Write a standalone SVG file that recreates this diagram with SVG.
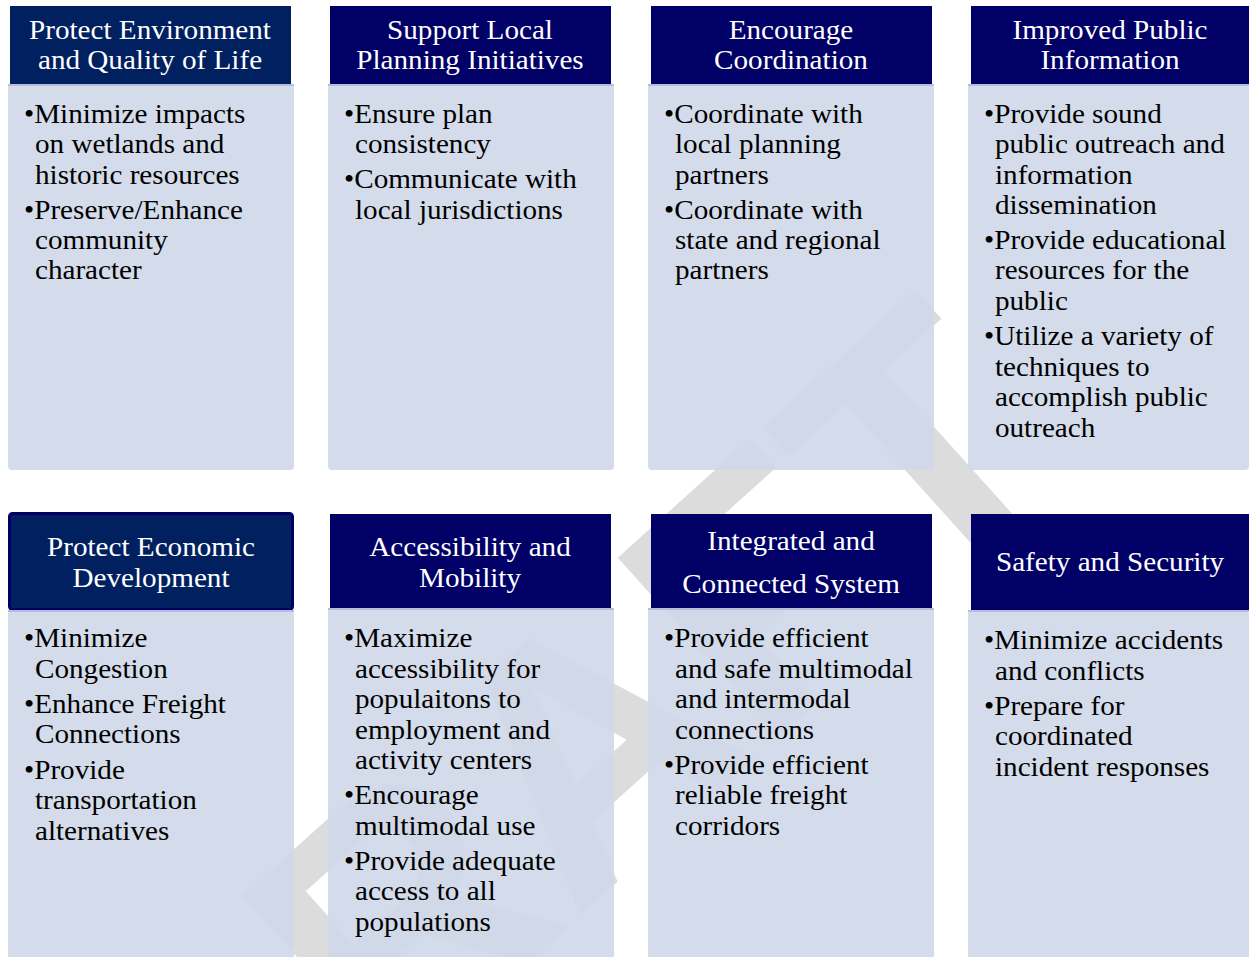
<svg xmlns="http://www.w3.org/2000/svg" width="1249" height="957" viewBox="0 0 1249 957">
<style>
.hd{fill:#000066}
.hd2{fill:#002060}
.bd{fill:rgb(207,215,232);fill-opacity:0.9}
.ln{fill:#b4bedb}
.ht{font-family:'Liberation Serif','Times New Roman',serif;font-size:26.5px;fill:#ffffff;text-anchor:middle}
.bt{font-family:'Liberation Serif','Times New Roman',serif;font-size:26.5px;fill:#000000}
.wm{font-family:'Liberation Sans',Arial,sans-serif;font-weight:bold;font-size:350px;fill:#dcdcdc;text-anchor:middle}
</style>
<rect x="0" y="0" width="1249" height="957" fill="#ffffff"/>
<g id="watermark">
<text class="wm" transform="translate(555,770) rotate(-42)" x="0" y="125">DRAFT</text>
</g>

<g id="card1">
<rect class="hd2" x="10" y="6" width="281" height="78"/>
<rect class="bd" x="8" y="84" width="286" height="386" rx="4"/>
<rect class="ln" x="8" y="84" width="286" height="2"/>
<text class="ht" transform="translate(150,0) scale(1.1,1)"><tspan x="0" y="39">Protect Environment</tspan><tspan x="0" y="69">and Quality of Life</tspan></text>
<text class="bt" transform="translate(24,0) scale(1.1,1)"><tspan x="0" y="123">•Minimize impacts</tspan><tspan x="10" y="153">on wetlands and</tspan><tspan x="10" y="184">historic resources</tspan><tspan x="0" y="219">•Preserve/Enhance</tspan><tspan x="10" y="249">community</tspan><tspan x="10" y="279">character</tspan></text>
</g>

<g id="card2">
<rect class="hd" x="330" y="6" width="281" height="78"/>
<rect class="bd" x="328" y="84" width="286" height="386" rx="4"/>
<rect class="ln" x="328" y="84" width="286" height="2"/>
<text class="ht" transform="translate(470,0) scale(1.1,1)"><tspan x="0" y="39">Support Local</tspan><tspan x="0" y="69">Planning Initiatives</tspan></text>
<text class="bt" transform="translate(344,0) scale(1.1,1)"><tspan x="0" y="123">•Ensure plan</tspan><tspan x="10" y="153">consistency</tspan><tspan x="0" y="188">•Communicate with</tspan><tspan x="10" y="219">local jurisdictions</tspan></text>
</g>

<g id="card3">
<rect class="hd" x="651" y="6" width="281" height="78"/>
<rect class="bd" x="648" y="84" width="286" height="386" rx="4"/>
<rect class="ln" x="648" y="84" width="286" height="2"/>
<text class="ht" transform="translate(791,0) scale(1.1,1)"><tspan x="0" y="39">Encourage</tspan><tspan x="0" y="69">Coordination</tspan></text>
<text class="bt" transform="translate(664,0) scale(1.1,1)"><tspan x="0" y="123">•Coordinate with</tspan><tspan x="10" y="153">local planning</tspan><tspan x="10" y="184">partners</tspan><tspan x="0" y="219">•Coordinate with</tspan><tspan x="10" y="249">state and regional</tspan><tspan x="10" y="279">partners</tspan></text>
</g>

<g id="card4">
<rect class="hd" x="971" y="6" width="278" height="78"/>
<rect class="bd" x="968" y="84" width="281" height="386" rx="4"/>
<rect class="ln" x="968" y="84" width="281" height="2"/>
<text class="ht" transform="translate(1110,0) scale(1.1,1)"><tspan x="0" y="39">Improved Public</tspan><tspan x="0" y="69">Information</tspan></text>
<text class="bt" transform="translate(984,0) scale(1.1,1)"><tspan x="0" y="123">•Provide sound</tspan><tspan x="10" y="153">public outreach and</tspan><tspan x="10" y="184">information</tspan><tspan x="10" y="214">dissemination</tspan><tspan x="0" y="249">•Provide educational</tspan><tspan x="10" y="279">resources for the</tspan><tspan x="10" y="310">public</tspan><tspan x="0" y="345">•Utilize a variety of</tspan><tspan x="10" y="376">techniques to</tspan><tspan x="10" y="406">accomplish public</tspan><tspan x="10" y="437">outreach</tspan></text>
</g>

<g id="card5">
<rect class="hd2" x="9.5" y="513.5" width="283" height="96" rx="3" stroke="#000066" stroke-width="3"/>
<rect class="bd" x="8" y="610" width="286" height="360" rx="4"/>
<rect class="ln" x="8" y="610" width="286" height="2"/>
<text class="ht" transform="translate(151,0) scale(1.1,1)"><tspan x="0" y="556">Protect Economic</tspan><tspan x="0" y="587">Development</tspan></text>
<text class="bt" transform="translate(24,0) scale(1.1,1)"><tspan x="0" y="647">•Minimize</tspan><tspan x="10" y="678">Congestion</tspan><tspan x="0" y="713">•Enhance Freight</tspan><tspan x="10" y="743">Connections</tspan><tspan x="0" y="779">•Provide</tspan><tspan x="10" y="809">transportation</tspan><tspan x="10" y="840">alternatives</tspan></text>
</g>

<g id="card6">
<rect class="hd" x="330" y="514" width="281" height="94"/>
<rect class="bd" x="328" y="608" width="286" height="362" rx="4"/>
<rect class="ln" x="328" y="608" width="286" height="2"/>
<text class="ht" transform="translate(470,0) scale(1.1,1)"><tspan x="0" y="556">Accessibility and</tspan><tspan x="0" y="587">Mobility</tspan></text>
<text class="bt" transform="translate(344,0) scale(1.1,1)"><tspan x="0" y="647">•Maximize</tspan><tspan x="10" y="678">accessibility for</tspan><tspan x="10" y="708">populaitons to</tspan><tspan x="10" y="739">employment and</tspan><tspan x="10" y="769">activity centers</tspan><tspan x="0" y="804">•Encourage</tspan><tspan x="10" y="835">multimodal use</tspan><tspan x="0" y="870">•Provide adequate</tspan><tspan x="10" y="900">access to all</tspan><tspan x="10" y="931">populations</tspan></text>
</g>

<g id="card7">
<rect class="hd" x="651" y="514" width="281" height="94"/>
<rect class="bd" x="648" y="608" width="286" height="362" rx="4"/>
<rect class="ln" x="648" y="608" width="286" height="2"/>
<text class="ht" transform="translate(791,0) scale(1.1,1)"><tspan x="0" y="550">Integrated and</tspan><tspan x="0" y="593">Connected System</tspan></text>
<text class="bt" transform="translate(664,0) scale(1.1,1)"><tspan x="0" y="647">•Provide efficient</tspan><tspan x="10" y="678">and safe multimodal</tspan><tspan x="10" y="708">and intermodal</tspan><tspan x="10" y="739">connections</tspan><tspan x="0" y="774">•Provide efficient</tspan><tspan x="10" y="804">reliable freight</tspan><tspan x="10" y="835">corridors</tspan></text>
</g>

<g id="card8">
<rect class="hd" x="971" y="514" width="278" height="96"/>
<rect class="bd" x="968" y="610" width="281" height="360" rx="4"/>
<rect class="ln" x="968" y="610" width="281" height="2"/>
<text class="ht" transform="translate(1110,0) scale(1.1,1)"><tspan x="0" y="571">Safety and Security</tspan></text>
<text class="bt" transform="translate(984,0) scale(1.1,1)"><tspan x="0" y="649">•Minimize accidents</tspan><tspan x="10" y="680">and conflicts</tspan><tspan x="0" y="715">•Prepare for</tspan><tspan x="10" y="745">coordinated</tspan><tspan x="10" y="776">incident responses</tspan></text>
</g>
<g id="connectors"></g>
</svg>
